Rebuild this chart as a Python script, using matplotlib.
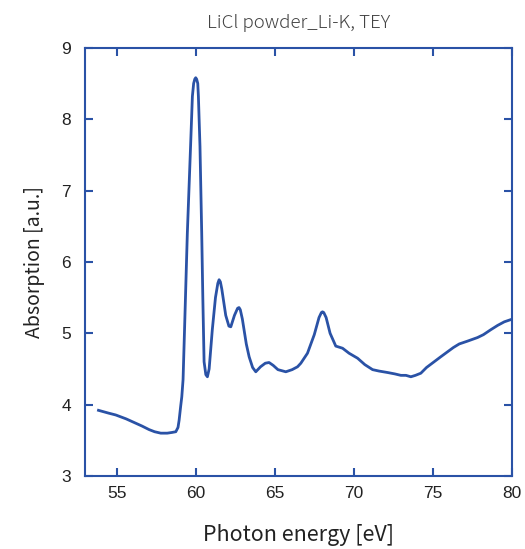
import matplotlib.pyplot as plt

# photon energy (eV) and absorption (a.u.)
energy = [53.85, 54.5, 54.94, 55.6, 56.2, 56.6, 57.05, 57.4, 57.79, 58.2, 58.5, 58.74,
          58.88, 58.95, 59.05, 59.12, 59.2, 59.3, 59.47, 59.69, 59.79, 59.87, 59.94, 60.0,
          60.06, 60.13, 60.17, 60.27, 60.38, 60.45, 60.53, 60.64, 60.74, 60.85, 61.05, 61.25,
          61.4, 61.48, 61.56, 61.65, 61.9, 62.1, 62.22, 62.45, 62.65, 62.74, 62.82, 62.95,
          63.2, 63.38, 63.6, 63.8, 64.1, 64.4, 64.64, 64.9, 65.2, 65.7, 66.1, 66.44,
          66.65, 67.07, 67.5, 67.8, 67.95, 68.02, 68.1, 68.25, 68.5, 68.86, 69.29, 69.7,
          70.24, 70.7, 71.19, 71.6, 72.13, 72.6, 72.98, 73.3, 73.61, 73.9, 74.24, 74.6,
          75.08, 75.5, 75.93, 76.3, 76.67, 77.2, 77.83, 78.2, 78.67, 79.1, 79.52, 80.05]
absorption = [3.92, 3.88, 3.855, 3.80, 3.74, 3.70, 3.65, 3.62, 3.60, 3.60, 3.61, 3.62,
              3.68, 3.78, 3.98, 4.11, 4.35, 5.1, 6.4, 7.71, 8.32, 8.5, 8.56, 8.58,
              8.56, 8.5, 8.32, 7.62, 6.4, 5.5, 4.6, 4.42, 4.39, 4.5, 5.05, 5.5,
              5.7, 5.75, 5.72, 5.62, 5.25, 5.1, 5.09, 5.25, 5.35, 5.36, 5.33, 5.2,
              4.85, 4.67, 4.52, 4.46, 4.53, 4.58, 4.59, 4.55, 4.49, 4.46, 4.49, 4.53,
              4.58, 4.72, 4.98, 5.22, 5.29, 5.30, 5.29, 5.22, 5.0, 4.82, 4.79, 4.72,
              4.65, 4.56, 4.49, 4.47, 4.45, 4.43, 4.41, 4.41, 4.39, 4.41, 4.44, 4.52,
              4.60, 4.67, 4.74, 4.80, 4.85, 4.89, 4.94, 4.98, 5.05, 5.11, 5.16, 5.20]

x_ticks = [55, 60, 65, 70, 75, 80]
y_ticks = [3, 4, 5, 6, 7, 8, 9]

BLUE = '#2a52a6'

fig = plt.figure(figsize=(5.25, 5.49), dpi=100)
ax = fig.add_axes([0.162, 0.133, 0.813, 0.78])
ax.plot(energy, absorption, color=BLUE, lw=2.0)

ax.set_xlim(53, 80)
ax.set_ylim(3, 9)
ax.set_xticks(x_ticks)
ax.set_yticks(y_ticks)
for s in ax.spines.values():
    s.set_color(BLUE)
    s.set_linewidth(1.5)
ax.tick_params(direction='in', length=6, width=1.5, color=BLUE,
               top=True, right=True, labelsize=12.5, labelcolor='#222222')
ax.tick_params(axis='y', pad=10)
ax.tick_params(axis='x', pad=7)
for lab in ax.get_xticklabels() + ax.get_yticklabels():
    lab.set_family('Liberation Sans')

ax.set_xlabel('Photon energy [eV]', fontsize=15.5, family='Noto Sans CJK JP',
              color='#222222', labelpad=17)
ax.set_ylabel('Absorption [a.u.]', fontsize=14, family='Noto Sans CJK JP',
              color='#222222', labelpad=12)
ax.set_title('LiCl powder_Li-K, TEY', fontsize=13.5, family='Noto Sans CJK JP',
             color='#444444', pad=14, fontweight='light')

fig.savefig('out.png', dpi=100)
